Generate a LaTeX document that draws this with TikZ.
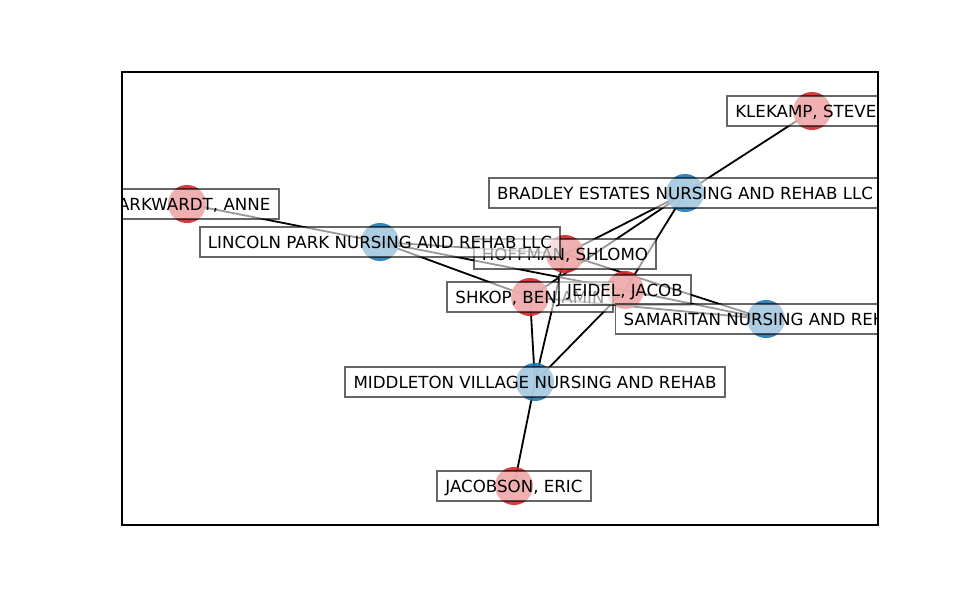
\documentclass[tikz,border=0pt]{standalone}
\usepackage{fontspec}
\setmainfont{DejaVu Sans}
\usepackage{tikz}
\usetikzlibrary{positioning}
\definecolor{tabred}{HTML}{D62728}
\definecolor{tabblue}{HTML}{1F77B4}
\tikzset{person/.style={circle, fill=tabred, fill opacity=.9, inner sep=0pt, minimum size=27.4pt},
    home/.style={circle, fill=tabblue, fill opacity=.9, inner sep=0pt, minimum size=27.4pt},
    tag/.style={draw=black, draw opacity=.6, fill=white, fill opacity=.6, text opacity=1, line width=1.3pt,
        inner xsep=6pt, inner ysep=0pt, minimum height=21.6pt, text height=8.75pt, text depth=0pt,
        font=\fontsize{12}{14}\selectfont},
    link/.style={line width=1.3pt, black}}

\begin{document}
\begin{tikzpicture}[x=.72pt, y=-.72pt]
    \useasboundingbox (0,0) rectangle (975,600);
    \coordinate (klekamp) at (812,111);
    \coordinate (bradley) at (685,193);
    \coordinate (markwardt) at (187,204);
    \coordinate (lincoln) at (380,242);
    \coordinate (hoffman) at (565,254);
    \coordinate (shkop) at (530,297);
    \coordinate (jeidel) at (625,290);
    \coordinate (samaritan) at (766,319);
    \coordinate (middleton) at (535,382);
    \coordinate (jacobson) at (514,486);
    \draw[link](klekamp)--(bradley);
    \draw[link](bradley)--(hoffman);
    \draw[link](bradley)--(shkop);
    \draw[link](bradley)--(jeidel);
    \draw[link](markwardt)--(lincoln);
    \draw[link](lincoln)--(hoffman);
    \draw[link](lincoln)--(shkop);
    \draw[link](lincoln)--(jeidel);
    \draw[link](hoffman)--(samaritan);
    \draw[link](jeidel)--(samaritan);
    \draw[link](shkop)--(samaritan);
    \draw[link](shkop)--(middleton);
    \draw[link](hoffman)--(middleton);
    \draw[link](jeidel)--(middleton);
    \draw[link](jacobson)--(middleton);
    \node[person] (klekamp-c) at (klekamp) {};
    \node[home] (bradley-c) at (bradley) {};
    \node[person] (markwardt-c) at (markwardt) {};
    \node[home] (lincoln-c) at (lincoln) {};
    \node[person] (hoffman-c) at (hoffman) {};
    \node[person] (shkop-c) at (shkop) {};
    \node[person] (jeidel-c) at (jeidel) {};
    \node[home] (samaritan-c) at (samaritan) {};
    \node[home] (middleton-c) at (middleton) {};
    \node[person] (jacobson-c) at (jacobson) {};
    \begin{scope}
    \clip (122,72) rectangle (878,525);
    \node[tag] (klekamp-t) at (klekamp) {KLEKAMP, STEVEN};
    \node[tag] (bradley-t) at (bradley) {BRADLEY ESTATES NURSING AND REHAB LLC};
    \node[tag] (markwardt-t) at (markwardt) {MARKWARDT, ANNE};
    \node[tag] (hoffman-t) at (hoffman) {HOFFMAN, SHLOMO};
    \node[tag] (lincoln-t) at (lincoln) {LINCOLN PARK NURSING AND REHAB LLC};
    \node[tag] (shkop-t) at (shkop) {SHKOP, BENJAMIN};
    \node[tag] (jeidel-t) at (jeidel) {JEIDEL, JACOB};
    \node[tag] (samaritan-t) at (samaritan) {SAMARITAN NURSING AND REHAB};
    \node[tag] (middleton-t) at (middleton) {MIDDLETON VILLAGE NURSING AND REHAB};
    \node[tag] (jacobson-t) at (jacobson) {JACOBSON, ERIC};
    \end{scope}
    \draw[line width=.9pt] (122,72) rectangle (878,525);
\end{tikzpicture}
\end{document}
